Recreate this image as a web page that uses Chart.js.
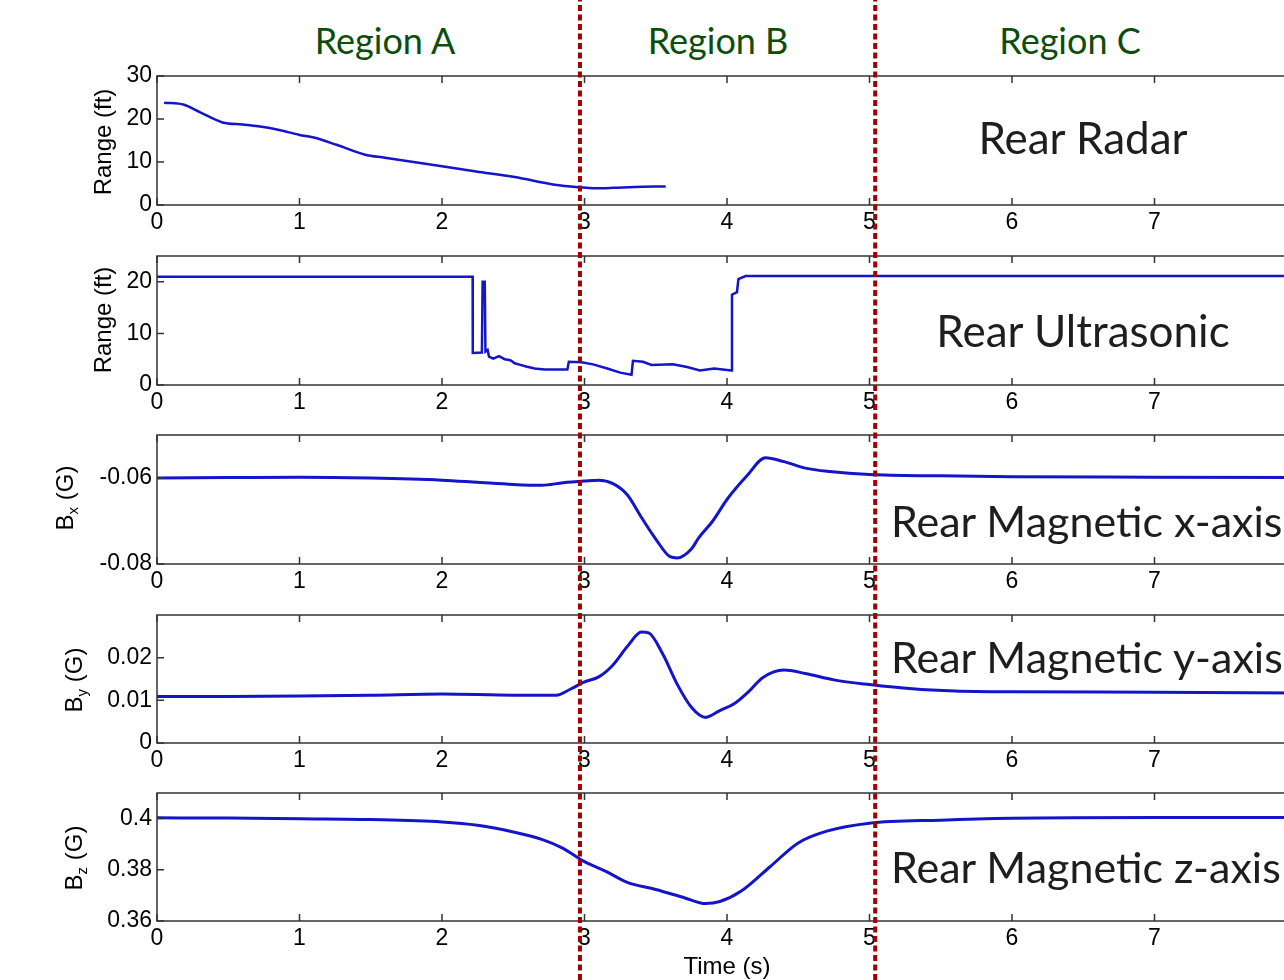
<!DOCTYPE html>
<html><head><meta charset="utf-8">
<script src="https://cdn.jsdelivr.net/npm/chart.js@4.4.1/dist/chart.umd.min.js"></script>
<style>
html,body{margin:0;padding:0;background:#fff;overflow:hidden;}
#wrap{position:relative;width:1284px;height:980px;overflow:hidden;background:#fff;}
.pl{position:absolute;left:0;}
.txt{position:absolute;white-space:nowrap;line-height:1;}
.region{font-family:Lato,"Open Sans",sans-serif;font-size:36px;color:#0c4d0c;transform:translate(-50%,-50%);}
.ann{font-family:Lato,"Open Sans",sans-serif;font-size:43px;color:#1e1e1e;transform:translateY(-50%);}
.annc{font-family:Lato,"Open Sans",sans-serif;font-size:44px;color:#1e1e1e;transform:translate(-50%,-50%);}
.yt{font-family:"Liberation Sans",Arial,sans-serif;font-size:24px;color:#000;transform:translate(-50%,-50%) rotate(-90deg);}
.yt sub{font-size:15px;vertical-align:-5px;}
.xt{font-family:"Liberation Sans",Arial,sans-serif;font-size:24px;color:#000;transform:translate(-50%,-50%);}
</style></head>
<body><div id="wrap">
<div class="txt region" style="left:385px;top:40px">Region A</div>
<div class="txt region" style="left:718px;top:40px">Region B</div>
<div class="txt region" style="left:1070px;top:40px">Region C</div>
<div class="txt annc" style="left:1083px;top:137px">Rear Radar</div>
<div class="txt annc" style="left:1083px;top:330px">Rear Ultrasonic</div>
<div class="txt ann" style="left:891px;top:520px">Rear Magnetic x-axis</div>
<div class="txt ann" style="left:891px;top:656px">Rear Magnetic y-axis</div>
<div class="txt ann" style="left:891px;top:866px">Rear Magnetic z-axis</div>
<div class="txt yt" style="left:103px;top:142px">Range (ft)</div>
<div class="txt yt" style="left:103px;top:320px">Range (ft)</div>
<div class="txt yt" style="left:66px;top:498px">B<sub>x</sub> (G)</div>
<div class="txt yt" style="left:75px;top:680px">B<sub>y</sub> (G)</div>
<div class="txt yt" style="left:75px;top:858px">B<sub>z</sub> (G)</div>
<div class="txt xt" style="left:727px;top:966px">Time (s)</div>
</div>
<script>
// ---- data ----
const xTicks = [0,1,2,3,4,5,6,7,8];
const regionBounds = [2.968, 5.04];

const radarT = [0.05,0.19,0.3,0.46,0.6,0.71,0.85,1.0,1.1,1.26,1.46,1.6,1.8,2.0,2.24,2.51,2.79,2.97,3.07,3.2,3.35,3.57];
const radarR = [23.8,23.3,21.6,19.2,18.7,18.3,17.5,16.3,15.7,14.0,11.7,11.0,10.0,9.0,7.8,6.5,4.7,4.1,3.9,4.0,4.2,4.3];

const ultraT = [0,2.215,2.216,2.28,2.285,2.30,2.305,2.32,2.33,2.36,2.40,2.44,2.48,2.51,2.55,2.59,2.65,2.72,2.88,2.89,2.98,3.06,3.16,3.25,3.33,3.34,3.41,3.47,3.62,3.72,3.81,3.91,4.03,4.035,4.07,4.08,4.13,8.0];
const ultraR = [21,21,6.2,6.3,20,20,6.5,6.8,5.5,5.1,5.6,5.0,4.8,4.2,3.9,3.6,3.2,3.0,3.0,4.5,4.4,4.0,3.2,2.4,2.0,4.7,4.5,3.9,4.0,3.5,2.8,3.2,2.8,17.5,18,20.5,21.1,21.1];

const bxT = [0,0.5,1.0,1.5,2.0,2.25,2.5,2.7,2.85,3.0,3.1,3.2,3.3,3.4,3.5,3.6,3.65,3.75,3.8,3.9,4.0,4.14,4.27,4.4,4.55,4.72,5.0,5.5,6.0,7.0,8.0];
const bxV = [-0.0600,-0.0599,-0.0598,-0.0600,-0.0605,-0.0610,-0.0615,-0.0617,-0.0611,-0.0607,-0.0605,-0.0613,-0.0639,-0.0692,-0.0742,-0.0783,-0.0786,-0.0765,-0.0740,-0.0700,-0.0650,-0.0595,-0.0553,-0.0562,-0.0577,-0.0585,-0.0592,-0.0595,-0.0597,-0.0598,-0.0599];

const byT = [0,0.5,1.0,1.5,2.0,2.5,2.8,2.9,3.0,3.1,3.2,3.3,3.4,3.45,3.55,3.65,3.75,3.85,3.95,4.05,4.15,4.25,4.4,4.55,4.75,5.0,5.3,5.6,6.0,7.0,8.0];
const byV = [0.0109,0.0109,0.0110,0.0112,0.0115,0.0112,0.0112,0.0126,0.0143,0.0155,0.0183,0.0226,0.0260,0.0258,0.0208,0.0138,0.0084,0.0060,0.0076,0.0092,0.0120,0.0153,0.0171,0.0163,0.0148,0.0137,0.0127,0.0122,0.0120,0.0119,0.0117];

const bzT = [0,0.5,1.0,1.5,2.0,2.25,2.5,2.7,2.85,3.0,3.15,3.3,3.5,3.7,3.85,3.95,4.1,4.3,4.5,4.7,5.0,5.5,6.0,7.0,8.0];
const bzV = [0.4003,0.4002,0.3999,0.3996,0.3987,0.3974,0.3948,0.3919,0.3884,0.3832,0.3794,0.3751,0.3723,0.3691,0.3668,0.3676,0.3717,0.3811,0.3905,0.3951,0.3982,0.3994,0.4001,0.4004,0.4004];

const yTicks1 = [0,10,20,30];
const yTicks2 = [0,10,20];
const yTicks3 = [-0.08,-0.06];
const yTicks4 = [0,0.01,0.02];
const yTicks5 = [0.36,0.38,0.4];

// ---- layout ----
const W = 1400, PADTOP = 14, XH = 42;
const plots = [
  {top:76,  bottom:205, t:radarT, v:radarR, min:0,     max:30,    yt:yTicks1, lw:2.5, tension:0.2},
  {top:256, bottom:385, t:ultraT, v:ultraR, min:0,     max:25,    yt:yTicks2, lw:2.5, tension:0},
  {top:435, bottom:564, t:bxT,    v:bxV,    min:-0.08, max:-0.05, yt:yTicks3, lw:3, tension:0.35},
  {top:615, bottom:743, t:byT,    v:byV,    min:0,     max:0.03,  yt:yTicks4, lw:3, tension:0.35},
  {top:793, bottom:921, t:bzT,    v:bzV,    min:0.36,  max:0.41,  yt:yTicks5, lw:3, tension:0.35}
];

const framePlugin = {
  id:'frame',
  afterDatasetsDraw(chart){
    const {ctx, chartArea:a, scales:{x,y}} = chart;
    ctx.save();
    ctx.strokeStyle = '#333';
    ctx.lineWidth = 1.5;
    ctx.strokeRect(a.left, a.top, a.right-a.left, a.bottom-a.top);
    ctx.beginPath();
    x.ticks.forEach(t=>{
      const px = x.getPixelForValue(t.value);
      ctx.moveTo(px, a.bottom); ctx.lineTo(px, a.bottom-7);
      ctx.moveTo(px, a.top); ctx.lineTo(px, a.top+7);
    });
    y.ticks.forEach(t=>{
      const py = y.getPixelForValue(t.value);
      ctx.moveTo(a.left, py); ctx.lineTo(a.left+7, py);
      ctx.moveTo(a.right, py); ctx.lineTo(a.right-7, py);
    });
    ctx.stroke();
    ctx.restore();
  }
};

const wrap = document.getElementById('wrap');
const font = {family:'"Liberation Sans", Arial, sans-serif', size:23};
const fmt = v => String(Number(v.toFixed(4)));

plots.forEach(p => {
  const h = (p.bottom - p.top) + PADTOP + XH;
  const div = document.createElement('div');
  div.className = 'pl';
  div.style.top = (p.top - PADTOP) + 'px';
  div.style.width = W + 'px';
  div.style.height = h + 'px';
  const cv = document.createElement('canvas');
  cv.width = W; cv.height = h;
  div.appendChild(cv);
  wrap.insertBefore(div, wrap.firstChild);
  new Chart(cv, {
    type:'line',
    data:{datasets:[{
      data: p.t.map((tt,i)=>({x:tt, y:p.v[i]})),
      borderColor:'#1414c8', borderWidth:p.lw, pointRadius:0, tension:p.tension,
      cubicInterpolationMode: p.tension ? 'monotone' : 'default', fill:false
    }]},
    options:{
      responsive:false, animation:false, devicePixelRatio:1,
      layout:{padding:{top:PADTOP, left:0, right:W-1297, bottom:0}},
      plugins:{legend:{display:false}, tooltip:{enabled:false}},
      events:[],
      scales:{
        x:{type:'linear', min:0, max:8, position:'bottom',
           afterBuildTicks: ax => { ax.ticks = xTicks.map(v=>({value:v})); },
           afterFit: s => { s.height = XH; s.paddingLeft = 0; s.paddingRight = 0; },
           grid:{display:false, drawTicks:false}, border:{display:false},
           ticks:{font, color:'#000', padding:4, autoSkip:false, maxRotation:0, callback: v => fmt(v)}},
        y:{type:'linear', min:p.min, max:p.max,
           afterBuildTicks: ax => { ax.ticks = p.yt.map(v=>({value:v})); },
           afterFit: s => { s.width = 157; s.paddingTop = 0; s.paddingBottom = 0; },
           grid:{display:false, drawTicks:false}, border:{display:false},
           ticks:{font, color:'#000', padding:5, autoSkip:false, callback: v => fmt(v)}}
      }
    },
    plugins:[framePlugin]
  });
});

// overlay with the dotted region boundaries
const ov = document.createElement('div');
ov.className = 'pl';
ov.style.top = '0px'; ov.style.width = W+'px'; ov.style.height = '980px'; ov.style.pointerEvents='none';
const ocv = document.createElement('canvas');
ocv.width = W; ocv.height = 980;
ov.appendChild(ocv);
wrap.appendChild(ov);
new Chart(ocv, {
  type:'line',
  data:{datasets: regionBounds.map(b => ({
    data:[{x:b,y:0},{x:b,y:1}],
    borderColor:'#a00000', borderWidth:4, borderDash:[6,3.5], pointRadius:0, clip:false
  }))},
  options:{
    responsive:false, animation:false, devicePixelRatio:1, events:[],
    layout:{padding:{left:157, right:W-1297, top:0, bottom:0}},
    plugins:{legend:{display:false}, tooltip:{enabled:false}},
    scales:{x:{type:'linear', min:0, max:8, display:false}, y:{min:0, max:1, display:false}}
  }
});
</script>
</body></html>
